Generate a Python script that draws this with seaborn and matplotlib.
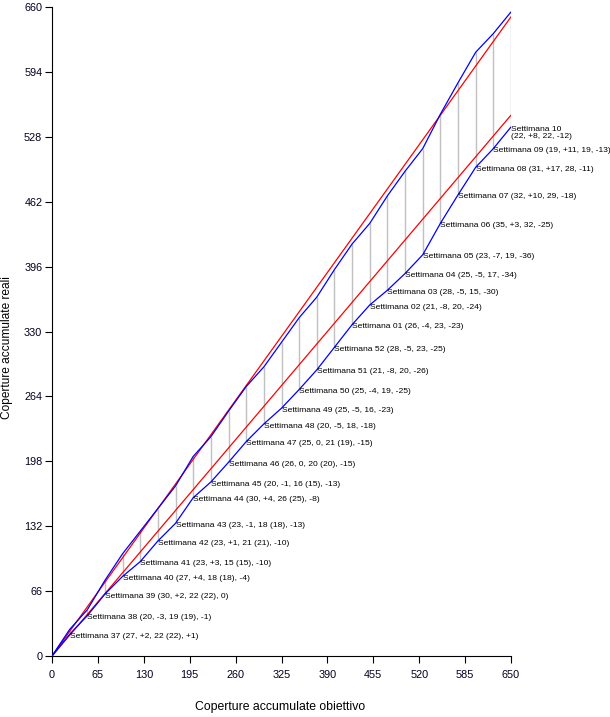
import numpy as np
import pandas as pd
import seaborn as sns
import matplotlib
matplotlib.use("Agg")
import matplotlib.pyplot as plt

sns.set_theme(style="white")
plt.rcParams['font.family'] = ['Liberation Sans', 'DejaVu Sans']

# ------------------------------------------------------------------
# weekly data
weeks = ['37', '38', '39', '40', '41', '42', '43', '44', '45', '46', '47', '48', '49',
         '50', '51', '52', '01', '02', '03', '04', '05', '06', '07', '08', '09', '10']
target_cum = [25, 50, 75, 100, 125, 150, 175, 200, 225, 250, 275, 300, 325,
              350, 375, 400, 425, 450, 475, 500, 525, 550, 575, 600, 625, 650]
planned = [27, 20, 30, 27, 23, 23, 23, 30, 20, 26, 25, 20, 25,
           25, 21, 28, 26, 21, 28, 25, 23, 35, 32, 31, 19, 22]
planned_diff = [2, -3, 2, 4, 3, 1, -1, 4, -1, 0, 0, -5, -5,
                -4, -8, -5, -4, -8, -5, -5, -7, 3, 10, 17, 11, 8]
real = [22, 19, 22, 18, 15, 21, 18, 26, 16, 20, 21, 18, 16,
        19, 20, 23, 23, 20, 15, 17, 19, 32, 29, 28, 19, 22]
real_paren = [22, 19, 22, 18, 15, 21, 18, 25, 15, 20, 19, None, None,
              None, None, None, None, None, None, None, None, None, None, None, None, None]
real_diff = [1, -1, 0, -4, -10, -10, -13, -8, -13, -15, -15, -18, -23,
             -25, -26, -25, -23, -24, -30, -34, -36, -25, -18, -11, -13, -12]

# reference lines (objective and minimum)
ref_x = [0, 650]
ref_goal = [0, 650]
ref_min = [0, 550]

# ------------------------------------------------------------------
x = np.concatenate([[0], target_cum])
upper = np.concatenate([[0], np.cumsum(planned)])
lower = np.concatenate([[0], np.cumsum(real)])
df = pd.DataFrame({'x': x, 'upper': upper, 'lower': lower})


def sgn(v):
    return "0" if v == 0 else f"{v:+d}"


fig = plt.figure(figsize=(6.10, 7.17), dpi=100)
ax = fig.add_axes([52 / 610, 61 / 717, 459 / 610, 649 / 717])

# grey connectors between the two blue lines
ax.vlines(df['x'][1:], df['lower'][1:], df['upper'][1:], color='#c0c0c0', lw=1.0, zorder=1)

# red reference lines
sns.lineplot(x=ref_x, y=ref_goal, color='#ff0000', lw=0.9, ax=ax, zorder=2)
sns.lineplot(x=ref_x, y=ref_min, color='#ff0000', lw=0.9, ax=ax, zorder=2)

# blue cumulative lines
sns.lineplot(data=df, x='x', y='upper', color='#0000ff', lw=0.9, ax=ax,
             estimator=None, sort=False, zorder=3)
sns.lineplot(data=df, x='x', y='lower', color='#0000ff', lw=0.9, ax=ax,
             estimator=None, sort=False, zorder=3)

# week labels
for i, w in enumerate(weeks):
    paren = f" ({real_paren[i]})" if real_paren[i] is not None else ""
    sep = "\n" if i == len(weeks) - 1 else " "
    txt = (f"Settimana {w}{sep}({planned[i]}, {sgn(planned_diff[i])}, "
           f"{real[i]}{paren}, {sgn(real_diff[i])})")
    ax.annotate(txt, xy=(target_cum[i], lower[i + 1]), xytext=(0, 1),
                textcoords='offset points', ha='left', va='top',
                fontsize=6.1, color='black', linespacing=1.15, zorder=4)

ax.set_xlim(0, 650)
ax.set_ylim(0, 660)
ax.set_xticks([0, 65, 130, 195, 260, 325, 390, 455, 520, 585, 650])
ax.set_yticks([0, 66, 132, 198, 264, 330, 396, 462, 528, 594, 660])
ax.tick_params(axis='both', direction='out', length=5, width=0.8, color='black',
               labelsize=7.8, labelcolor='#000020', bottom=True, left=True)
ax.tick_params(axis='x', pad=5)
ax.tick_params(axis='y', pad=2)

for side in ['top', 'right']:
    ax.spines[side].set_visible(False)
for side in ['left', 'bottom']:
    ax.spines[side].set_color('black')
    ax.spines[side].set_linewidth(0.8)

ax.set_xlabel('Coperture accumulate obiettivo', fontsize=8.8, color='black')
ax.set_ylabel('Coperture accumulate reali', fontsize=8.6, color='black')
ax.xaxis.set_label_coords(0.497, -0.069)
ax.yaxis.set_label_coords(-0.084, 0.475)
ax.grid(False)

fig.savefig('out.png', dpi=100)
